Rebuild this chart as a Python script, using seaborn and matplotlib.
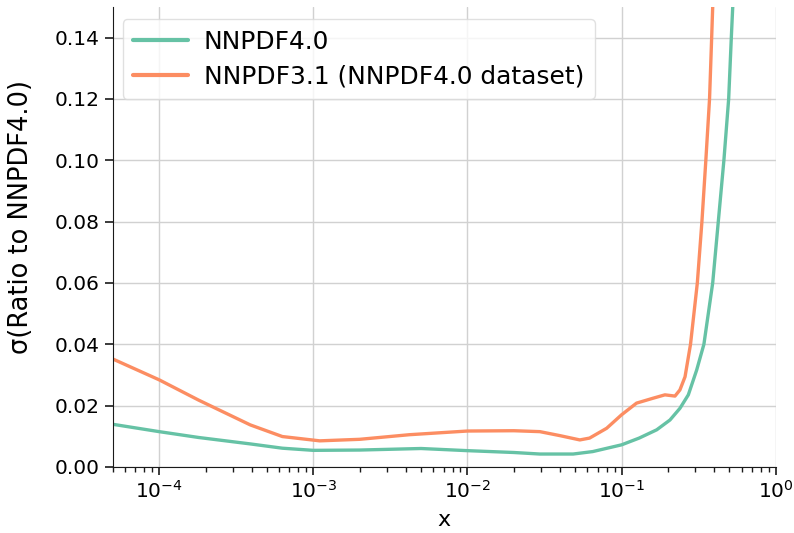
import matplotlib
matplotlib.use("Agg")
import matplotlib.pyplot as plt
import numpy as np
import pandas as pd
import seaborn as sns

# Uncertainty (sigma of ratio to NNPDF4.0) as a function of x
x_nnpdf40 = [5e-5, 1e-4, 1.8e-4, 3.9e-4, 6.3e-4, 1e-3, 2e-3, 5e-3, 1e-2, 2e-2,
             2.95e-2, 4.85e-2, 6.5e-2, 0.1, 0.13, 0.169, 0.206, 0.239, 0.271,
             0.307, 0.342, 0.39, 0.424, 0.461, 0.495, 0.515, 0.526]
sigma_nnpdf40 = [0.0139, 0.0115, 0.0096, 0.0075, 0.0061, 0.0054, 0.0055, 0.0060,
                 0.0053, 0.0047, 0.0042, 0.0042, 0.0050, 0.0072, 0.0094, 0.0121,
                 0.0153, 0.0191, 0.0235, 0.0316, 0.0400, 0.0600, 0.0800, 0.1000,
                 0.1200, 0.1400, 0.1500]

x_nnpdf31 = [5e-5, 1e-4, 1.8e-4, 3.9e-4, 6.3e-4, 1.1e-3, 2e-3, 4.2e-3, 1e-2, 2e-2,
             2.95e-2, 3.98e-2, 5.36e-2, 6.2e-2, 8e-2, 0.1, 0.125, 0.16, 0.191,
             0.222, 0.239, 0.258, 0.28, 0.31, 0.332, 0.352, 0.372, 0.384, 0.39]
sigma_nnpdf31 = [0.0352, 0.0284, 0.0218, 0.0137, 0.0099, 0.0085, 0.0090, 0.0105,
                 0.0117, 0.0118, 0.0115, 0.0102, 0.0088, 0.0094, 0.0126, 0.0170,
                 0.0208, 0.0224, 0.0235, 0.0231, 0.0251, 0.0294, 0.0400, 0.0600,
                 0.0800, 0.1000, 0.1200, 0.1400, 0.1500]

labels = ["NNPDF4.0", "NNPDF3.1 (NNPDF4.0 dataset)"]
colors = ["#66c2a5", "#fc8d62"]

df = pd.concat([
    pd.DataFrame({"x": x_nnpdf40, "sigma": sigma_nnpdf40, "fit": labels[0]}),
    pd.DataFrame({"x": x_nnpdf31, "sigma": sigma_nnpdf31, "fit": labels[1]}),
])

sns.set_style("ticks", {"axes.grid": True, "grid.color": ".82",
                        "axes.edgecolor": ".1", "text.color": "black",
                        "axes.labelcolor": "black", "xtick.color": ".1",
                        "ytick.color": ".1"})
plt.rcParams["font.family"] = ["DejaVu Sans"]
plt.rcParams["lines.solid_joinstyle"] = "round"

fig = plt.figure(figsize=(7.94, 5.33), dpi=100)
ax = fig.add_axes([0.142, 0.124, 0.835, 0.863])

sns.lineplot(data=df, x="x", y="sigma", hue="fit", hue_order=labels,
             palette=colors, estimator=None, sort=False, linewidth=2.4, ax=ax)

ax.set_xscale("log")
ax.set_xlim(5e-5, 1.0)
ax.set_ylim(0.0, 0.15)
ax.set_yticks(np.arange(0.0, 0.141, 0.02))
ax.yaxis.set_major_formatter(matplotlib.ticker.FormatStrFormatter("%.2f"))
ax.grid(True, which="major", color=".82", linewidth=1.0)
ax.grid(False, which="minor")
ax.tick_params(axis="both", which="major", labelsize=14.5, length=6, width=1.2,
               labelcolor="black")
ax.tick_params(axis="x", which="minor", length=3.5, width=1.0)

ax.set_xlabel("x", fontsize=16, labelpad=6)
ax.set_ylabel("σ(Ratio to NNPDF4.0)", fontsize=18.5)
ax.yaxis.set_label_coords(-0.119, 0.543)
sns.despine(ax=ax)

leg = ax.legend(loc="upper left", fontsize=17.9, handlelength=2.2,
                handletextpad=0.65, frameon=True, borderpad=0.42,
                labelspacing=0.45, bbox_to_anchor=(-0.004, 1.0))
leg.get_frame().set_edgecolor(".85")
for line in leg.get_lines():
    line.set_linewidth(3)

fig.savefig("out.png", dpi=100)
